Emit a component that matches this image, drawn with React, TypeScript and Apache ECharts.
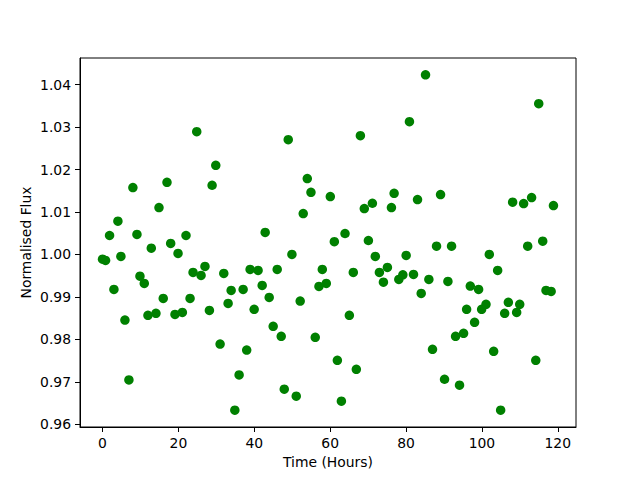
import React, { useEffect, useRef } from "react";
import * as echarts from "echarts";

const timeHours = [
  0, 0.79, 1.85, 3.0, 4.05, 4.84, 5.9, 6.95, 8.0, 9.07, 9.86, 11.0, 11.97, 12.85,
  14.08, 14.88, 16.0, 16.99, 17.96, 19.1, 19.9, 21.04, 22.0, 23.07, 23.86, 24.83,
  25.97, 27.0, 28.17, 28.88, 29.85, 30.99, 31.96, 33.1, 33.9, 34.87, 36.0, 37.06,
  38.0, 38.9, 39.97, 41.0, 42.08, 42.87, 43.93, 44.98, 46.04, 47.1, 47.9, 48.95,
  49.92, 51.06, 52.1, 52.9, 53.97, 54.94, 56.07, 57.05, 57.93, 58.98, 60.04, 61.1,
  61.9, 62.96, 63.92, 65.06, 66.1, 66.9, 67.97, 69.0, 70.08, 71.13, 71.9, 72.98,
  74.04, 75.09, 76.15, 76.86, 78.1, 79.16, 80.03, 80.9, 81.97, 83.03, 84.0, 85.14,
  86.02, 86.98, 88.04, 89.1, 90.15, 91.04, 92.0, 93.06, 94.1, 95.17, 95.97, 96.94,
  98.07, 99.13, 99.93, 101.08, 101.95, 103.1, 104.15, 104.94, 106.0, 106.97, 108.1,
  109.16, 109.97, 111.0, 112.07, 113.1, 114.2, 114.98, 116.03, 116.9, 118.25, 118.86,
];

const normalisedFlux = [
  0.99889, 0.99859, 1.00447, 0.99176, 1.00784, 0.99953, 0.98454, 0.97042, 1.01576,
  1.00471, 0.99489, 0.99318, 0.98565, 1.00148, 0.98612, 1.01106, 0.98965, 1.01701,
  1.00259, 0.98588, 1.00024, 0.98635, 1.00447, 0.98965, 0.99576, 1.02894, 0.99506,
  0.99718, 0.98682, 1.01631, 1.02101, 0.97889, 0.99553, 0.98847, 0.99153, 0.96329,
  0.9716, 0.99176, 0.97748, 0.99647, 0.98706, 0.99624, 0.99271, 1.00518, 0.98988,
  0.98306, 0.99647, 0.98071, 0.96824, 1.02706, 1.0, 0.96659, 0.98902, 1.00965,
  1.01788, 1.01466, 0.98047, 0.99247, 0.99647, 0.99318, 1.01365, 1.003, 0.97506,
  0.96541, 1.00494, 0.98565, 0.99576, 0.97294, 1.028, 1.01082, 1.00329, 1.01207,
  0.99953, 0.99576, 0.99348, 0.99694, 1.01106, 1.01442, 0.99412, 0.9952, 0.99976,
  1.0313, 0.99529, 1.01294, 0.99082, 1.04235, 0.99412, 0.97765, 1.00195, 1.01412,
  0.97059, 0.99365, 1.00195, 0.98071, 0.96918, 0.98141, 0.98706, 0.99254, 0.984,
  0.99176, 0.98706, 0.98824, 1.0, 0.97718, 0.99624, 0.96329, 0.98612, 0.98871,
  1.01231, 0.98635, 0.98824, 1.012, 1.00195, 1.01341, 0.97506, 1.03553, 1.00313,
  0.99153, 0.99129, 1.01153,
];

const xTicks = [0, 20, 40, 60, 80, 100, 120];
const yTicks = [0.96, 0.97, 0.98, 0.99, 1.0, 1.01, 1.02, 1.03, 1.04];

const FONT = "DejaVu Sans";

export default function App() {
  const ref = useRef<HTMLDivElement>(null);
  useEffect(() => {
    const chart = echarts.init(ref.current!, null, { renderer: "svg" });
    const xMinD = Math.min(...timeHours);
    const xMaxD = Math.max(...timeHours);
    const yMinD = Math.min(...normalisedFlux);
    const yMaxD = Math.max(...normalisedFlux);
    const xPad = (xMaxD - xMinD) * 0.05;
    const yPad = (yMaxD - yMinD) * 0.05;
    const points = timeHours.map((t, i) => [t, normalisedFlux[i]]);
    const axisCommon = {
      axisLine: { show: true, onZero: false, lineStyle: { color: "#000", width: 1 } },
      splitLine: { show: false },
    };
    chart.setOption({
      animation: false,
      backgroundColor: "#fff",
      grid: {
        left: 80,
        right: 64,
        top: 58,
        bottom: 53,
        show: true,
        borderColor: "#000",
        borderWidth: 1,
        backgroundColor: "transparent",
      },
      xAxis: {
        type: "value",
        min: xMinD - xPad,
        max: xMaxD + xPad,
        ...axisCommon,
        axisTick: {
          show: true,
          inside: false,
          length: 5,
          lineStyle: { color: "#000" },
          customValues: xTicks,
        },
        axisLabel: {
          customValues: xTicks,
          color: "#000",
          fontFamily: FONT,
          fontSize: 13.9,
          margin: 9,
          showMinLabel: true,
          showMaxLabel: true,
        },
        name: "Time (Hours)",
        nameLocation: "middle",
        nameGap: 28,
        nameMoveOverlap: false,
        nameTextStyle: { color: "#000", fontFamily: FONT, fontSize: 13.9 },
      },
      yAxis: {
        type: "value",
        min: yMinD - yPad,
        max: yMaxD + yPad,
        ...axisCommon,
        axisTick: {
          show: true,
          inside: false,
          length: 5,
          lineStyle: { color: "#000" },
          customValues: yTicks,
        },
        axisLabel: {
          customValues: yTicks,
          color: "#000",
          fontFamily: FONT,
          fontSize: 13.9,
          margin: 9,
          formatter: (v: number) => v.toFixed(2),
          showMinLabel: true,
          showMaxLabel: true,
        },
        name: "Normalised Flux",
        nameLocation: "middle",
        nameGap: 47,
        nameMoveOverlap: false,
        nameTextStyle: { color: "#000", fontFamily: FONT, fontSize: 13.9 },
      },
      series: [
        {
          type: "scatter",
          data: points,
          symbol: "circle",
          symbolSize: 9.5,
          itemStyle: { color: "#008000", opacity: 1 },
          emphasis: { disabled: true },
        },
      ],
    });
    return () => chart.dispose();
  }, []);
  return (
    <div
      ref={ref}
      style={{ position: "fixed", left: 0, top: 0, width: 640, height: 480, background: "#fff" }}
    />
  );
}
